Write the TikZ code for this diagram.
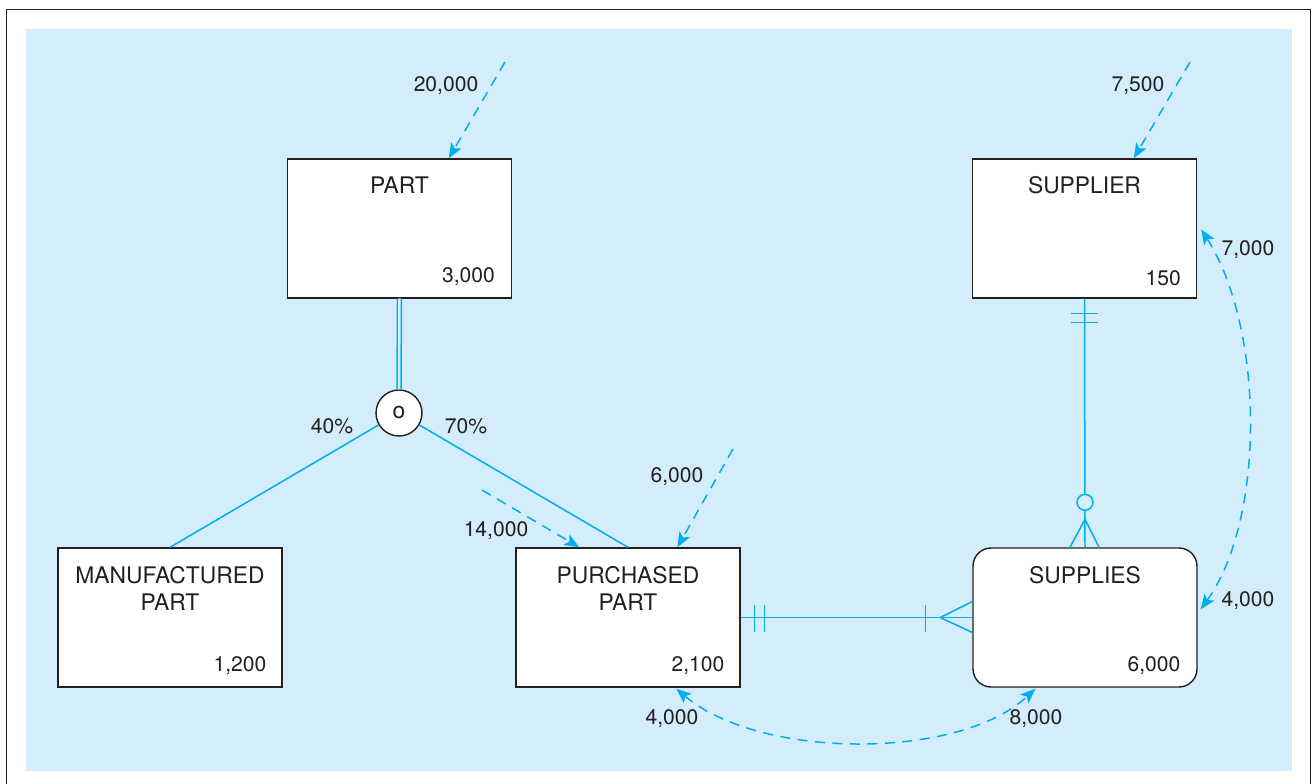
\documentclass[tikz,border=0pt]{standalone}
\usepackage{fontspec}
\setmainfont{TeX Gyre Heros}
\definecolor{fondoazul}{RGB}{211,238,250}
\definecolor{lineacian}{RGB}{0,174,239}
\definecolor{textogris}{RGB}{35,31,32}
\usetikzlibrary{arrows.meta,positioning,calc}

\begin{document}
\begin{tikzpicture}[x=0.02cm,y=-0.02cm,
    entidad/.style={draw=textogris,fill=white,line width=0.8pt,
      minimum width=4.48cm,minimum height=2.78cm,inner sep=0pt},
    etiqueta/.style={inner sep=0pt,align=center,text=textogris,
      font=\fontsize{13}{15.5}\selectfont},
    cifra/.style={inner sep=0pt,text=textogris,
      font=\fontsize{12}{14}\selectfont},
    enlace/.style={color=lineacian,line width=0.85pt},
    flujo/.style={color=lineacian,line width=0.85pt,
      dash pattern=on 0.2cm off 0.15cm,
      -{Stealth[length=0.3cm,width=0.24cm,inset=0.07cm]}},
    flujodoble/.style={flujo,
      {Stealth[length=0.3cm,width=0.24cm,inset=0.07cm]}-{Stealth[length=0.3cm,width=0.24cm,inset=0.07cm]}},
    circulo/.style={circle,draw=textogris,fill=white,line width=0.8pt,
      minimum size=0.92cm,inner sep=0pt,text=textogris,
      font=\fontsize{13}{15}\selectfont}]
    \useasboundingbox (0,0) rectangle (1313,784);
    % marco y fondo
    \draw[textogris,line width=1.1pt]
      (6.5,784)--(6.5,9.5)--(1310.5,9.5)--(1310.5,784);
    \fill[fondoazul] (26,29) rectangle (1292,771);
    % entidades
    \node[entidad] (part) at (399.5,228.5) {};
    \node[entidad] (supplier) at (1084.5,228.5) {};
    \node[entidad] (manuf) at (170,617.5) {};
    \node[entidad] (purch) at (628,617.5) {};
    \node[entidad,rounded corners=0.36cm] (supplies) at (1085,617.5) {};
    \node[etiqueta,below=0.36cm of part.north] {PART};
    \node[etiqueta,below=0.36cm of supplier.north] {SUPPLIER};
    \node[etiqueta,below=0.38cm of manuf.north] {MANUFACTURED\\PART};
    \node[etiqueta,below=0.38cm of purch.north] {PURCHASED\\PART};
    \node[etiqueta,below=0.38cm of supplies.north] {SUPPLIES};
    \node[cifra,above left=0.26cm and 0.34cm of part.south east] {3,000};
    \node[cifra,above left=0.26cm and 0.32cm of supplier.south east] {150};
    \node[cifra,above left=0.26cm and 0.32cm of manuf.south east] {1,200};
    \node[cifra,above left=0.26cm and 0.32cm of purch.south east] {2,100};
    \node[cifra,above left=0.26cm and 0.34cm of supplies.south east] {6,000};
    % subtipos
    \node[circulo] (disj) at (399,413) {o};
    \draw[enlace,double=fondoazul,double distance=0.05cm]
      (part.south)--(disj.north);
    \draw[enlace] (disj)--(manuf.north);
    \draw[enlace] (disj)--(purch.north);
    \node[cifra] (p40) at (332,426) {40\%};
    \node[cifra] (p70) at (466,426) {70\%};
    % relaciones
    \draw[enlace] (purch.east)--(supplies.west);
    \draw[enlace] ($(purch.east)+(14,-13)$)--++(0,27);
    \draw[enlace] ($(purch.east)+(24,-13)$)--++(0,27);
    \draw[enlace] ($(supplies.west)+(-47,-13)$)--++(0,27);
    \draw[enlace] ($(supplies.west)+(0,-16)$)--($(supplies.west)+(-32,0)$)
      --($(supplies.west)+(0,15)$);
    \draw[enlace] (supplier.south)--(supplies.north);
    \draw[enlace] ($(supplier.south)+(-14,15)$)--++(27,0);
    \draw[enlace] ($(supplier.south)+(-14,24)$)--++(27,0);
    \draw[enlace,fill=fondoazul] ($(supplies.north)+(0,-45)$) circle (0.16cm);
    \draw[enlace] ($(supplies.north)+(-15,0)$)--($(supplies.north)+(0,-28)$)
      --($(supplies.north)+(14,0)$);
    % accesos
    \coordinate (a20) at (505,62);
    \coordinate (a75) at (1190,62);
    \coordinate (a6) at (733,449);
    \coordinate (a14) at (482,490);
    \draw[flujo] (a20)--($(part.north west)+(162,0)$);
    \draw[flujo] (a75)--($(supplier.north west)+(162,0)$);
    \draw[flujo] (a6)--($(purch.north west)+(162,0)$);
    \draw[flujo] (a14)--($(purch.north west)+(64,0)$);
    \draw[flujodoble]
      ($(supplier.north east)+(4,71)$)
      .. controls (1265,330) and (1265,520) ..
      ($(supplies.north east)+(3,62)$);
    \draw[flujodoble]
      ($(purch.south west)+(161,1)$)
      .. controls (760,760) and (960,760) ..
      ($(supplies.south west)+(63,1)$);
    \node[cifra] (n20) at (446,86) {20,000};
    \node[cifra] (n75) at (1138,86) {7,500};
    \node[cifra] (n6) at (677,477) {6,000};
    \node[cifra] (n14) at (496,531) {14,000};
    \node[cifra] (n7) at (1248,250) {7,000};
    \node[cifra] (n4a) at (1248,601) {4,000};
    \node[cifra] (n4b) at (672,719) {4,000};
    \node[cifra] (n8) at (1036,719) {8,000};
  \end{tikzpicture}
\end{document}
